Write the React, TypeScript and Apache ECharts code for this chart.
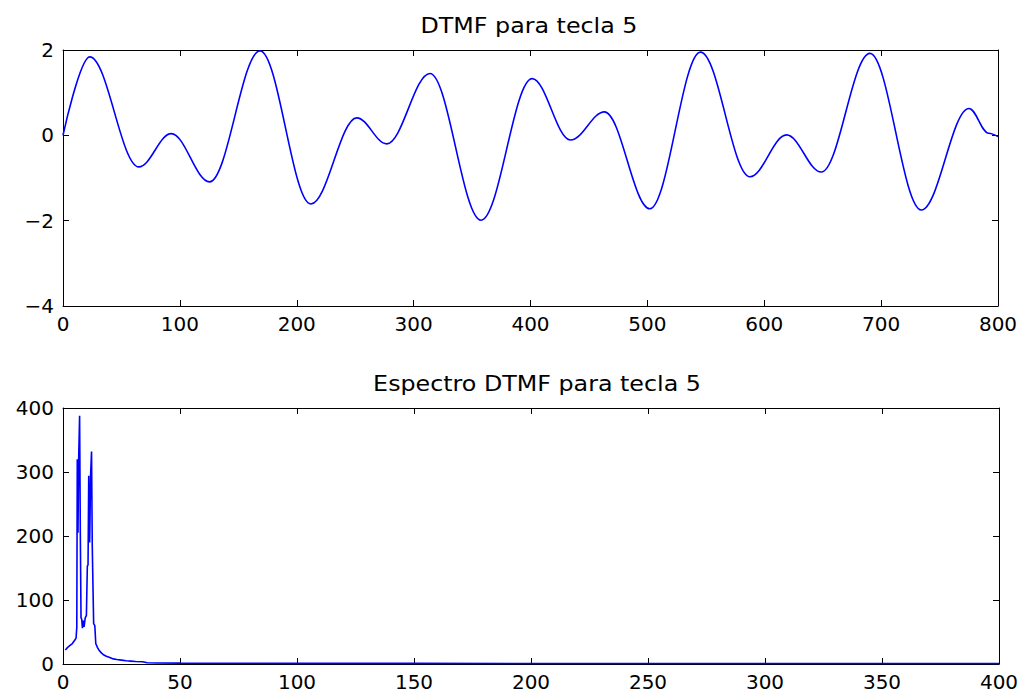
import React, { useEffect, useRef } from 'react';
import * as echarts from 'echarts';

// Time-domain DTMF waveform (key 5): extrema
const waveX = [0, 22.9, 64.9, 92.6, 125.4, 168.6, 212, 251.4, 277, 314, 357.7, 401.4, 434.2, 463.3, 502.1, 545.5, 587.7, 619.1, 648.8, 690.4, 734.4, 775.2, 792, 800];
const waveY = [0, 1.84, -0.74, 0.04, -1.09, 1.98, -1.61, 0.41, -0.2, 1.45, -1.99, 1.33, -0.11, 0.55, -1.72, 1.95, -0.97, 0.01, -0.86, 1.92, -1.75, 0.63, 0.05, -0.03];

// Spectrum magnitude
const specX = [1, 2, 3, 4, 5, 5.6, 5.9, 6.1, 6.4, 6.7, 7.1, 7.4, 7.7, 8.0, 8.3, 8.7, 9.0, 9.5, 10.0, 10.4, 10.7, 11.0, 11.4, 11.8, 12.2, 12.5, 12.8, 13.1, 13.6, 14.0, 14.7, 15.5, 16.5, 17.5, 18.5, 20, 21.5, 23, 25, 27, 29, 31, 34, 36, 40, 50, 70, 100, 150, 200, 300, 400];
const specY = [22, 26, 29, 32, 37, 41, 58, 320, 205, 322, 388, 205, 72, 70, 56, 68, 58, 72, 76, 153, 155, 294, 190, 296, 332, 185, 185, 63, 60, 32, 26, 21, 17, 14, 12, 10, 8, 7, 6, 5, 4.5, 4, 3.5, 2, 1.6, 1.3, 1.1, 1, 0.9, 0.8, 0.8, 0.8];

const topTitle = 'DTMF para tecla 5';
const bottomTitle = 'Espectro DTMF para tecla 5';

const FONT = 'DejaVu Sans';

function minusFmt(v: number) {
  return String(v).replace('-', '\u2212');
}

export default function App() {
  const ref = useRef<HTMLDivElement>(null);
  useEffect(() => {
    document.body.style.margin = '0';
    const chart = echarts.init(ref.current!, null, { renderer: 'svg' });
    const axisLine = { show: true, onZero: false, lineStyle: { color: '#000', width: 1 } };
    const axisTick = { show: true, inside: true, length: 6, lineStyle: { color: '#000', width: 1 } };
    const label = { color: '#000', fontFamily: FONT, fontSize: 20, formatter: minusFmt };
    const mkX = (grid: number, max: number, interval: number, pos: 'top' | 'bottom') => ({
      type: 'value', gridIndex: grid, min: 0, max, interval, position: pos,
      axisLine, axisTick, splitLine: { show: false },
      axisLabel: pos === 'bottom' ? { ...label, margin: 8 } : { show: false },
    });
    const mkY = (grid: number, min: number, max: number, interval: number, pos: 'left' | 'right') => ({
      type: 'value', gridIndex: grid, min, max, interval, position: pos,
      axisLine, axisTick, splitLine: { show: false },
      axisLabel: pos === 'left' ? { ...label, margin: 9 } : { show: false },
    });
    chart.setOption({
      animation: false,
      backgroundColor: '#fff',
      grid: [
        { left: 63, right: 27, top: 50, height: 256 },
        { left: 63, right: 26, top: 408, height: 256 },
      ],
      xAxis: [mkX(0, 800, 100, 'bottom'), mkX(0, 800, 100, 'top'), mkX(1, 400, 50, 'bottom'), mkX(1, 400, 50, 'top')],
      yAxis: [mkY(0, -4, 2, 2, 'left'), mkY(0, -4, 2, 2, 'right'), mkY(1, 0, 400, 100, 'left'), mkY(1, 0, 400, 100, 'right')],
      graphic: [
        { type: 'text', x: 529, y: 26, scaleX: 1.16, style: { text: topTitle, align: 'center', verticalAlign: 'middle', fontFamily: FONT, fontSize: 20.5, fill: '#000' } },
        { type: 'text', x: 537, y: 384, scaleX: 1.16, style: { text: bottomTitle, align: 'center', verticalAlign: 'middle', fontFamily: FONT, fontSize: 20.5, fill: '#000' } },
      ],
      series: [
        {
          type: 'line', xAxisIndex: 0, yAxisIndex: 0,
          data: waveX.map((x, i) => [x, waveY[i]]),
          smooth: 0.36, smoothMonotone: 'x', showSymbol: false, symbol: 'none',
          lineStyle: { color: '#0000ff', width: 1.6 },
        },
        {
          type: 'line', xAxisIndex: 2, yAxisIndex: 2,
          data: specX.map((x, i) => [x, specY[i]]),
          showSymbol: false, symbol: 'none',
          lineStyle: { color: '#0000ff', width: 1.6 },
        },
      ],
    });
    return () => chart.dispose();
  }, []);
  return <div ref={ref} style={{ width: 1025, height: 693 }} />;
}
